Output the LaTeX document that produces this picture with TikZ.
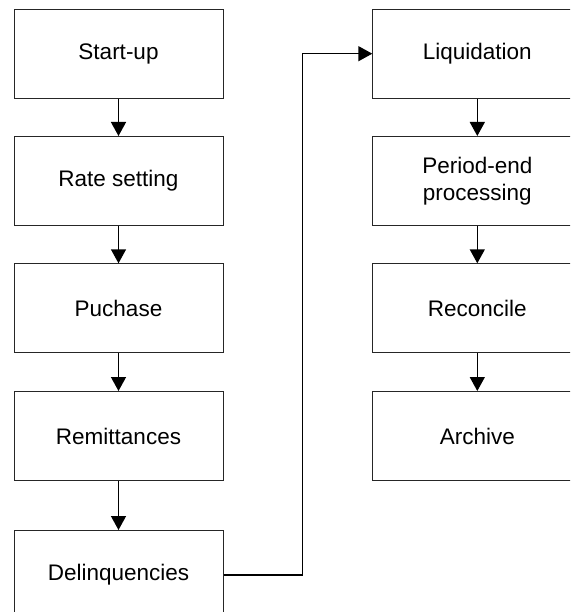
\documentclass[tikz,border=0pt]{standalone}
\usepackage{fontspec}
\setmainfont{Liberation Sans}
\usetikzlibrary{arrows.meta}
\begin{document}
\begin{tikzpicture}[x=1pt,y=-1pt,
  stepbox/.style={draw=black!85, line width=1pt, minimum width=209pt, minimum height=89pt,
    inner sep=0pt, anchor=north west, align=center, font=\fontsize{22.5}{27}\selectfont},
  arr/.style={line width=1.4pt, -{Triangle[length=14pt,width=15pt]}}]
\useasboundingbox (0,0) rectangle (570,612);
\clip (0,0) rectangle (570,612);
\node[stepbox] (start) at (13.5,8.7) {Start-up};
\node[stepbox] (rate) at (13.5,136) {Rate setting};
\node[stepbox] (puch) at (13.5,263.3) {Puchase};
\node[stepbox] (remit) at (13.5,391) {Remittances};
\node[stepbox] (delin) at (13.5,530) {Delinquencies};
\node[stepbox] (liq) at (372.3,8.7) {Liquidation};
\node[stepbox] (period) at (372.3,136) {Period-end\\processing};
\node[stepbox] (recon) at (372.3,263.3) {Reconcile};
\node[stepbox] (arch) at (372.3,391) {Archive};
\coordinate (turn) at (302.7,300);
\draw[arr] (start) -- (rate);
\draw[arr] (rate) -- (puch);
\draw[arr] (puch) -- (remit);
\draw[arr] (remit) -- (delin);
\draw[arr] (liq) -- (period);
\draw[arr] (period) -- (recon);
\draw[arr] (recon) -- (arch);
\draw[arr] (delin.east) -- (delin.east -| turn) -- (turn |- liq.west) -- (liq.west);
\end{tikzpicture}
\end{document}
